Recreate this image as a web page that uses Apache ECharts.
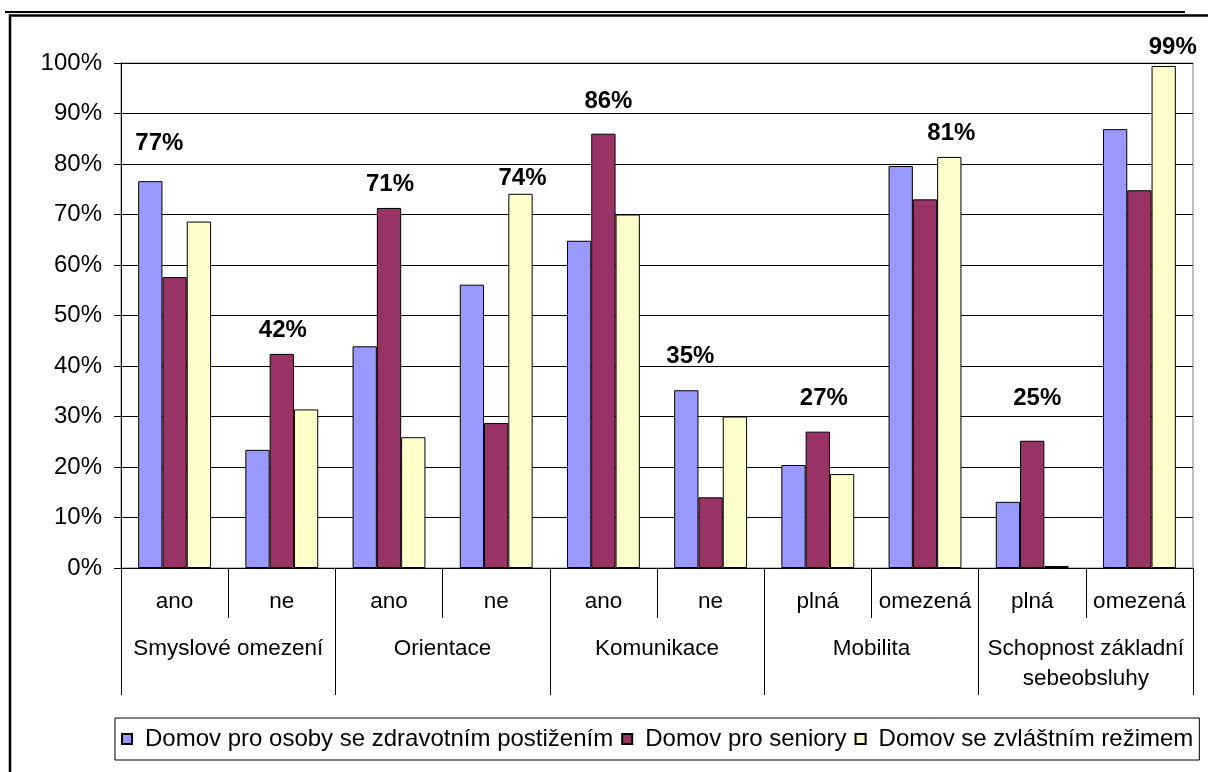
<!DOCTYPE html>
<html>
<head>
<meta charset="utf-8">
<script src="https://cdn.jsdelivr.net/npm/echarts@6/dist/echarts.min.js"></script>
<style>
  html, body { margin: 0; padding: 0; background: #fff; }
  #chart { width: 1208px; height: 772px; }
</style>
</head>
<body>
<div id="chart"></div>
<script>
// Sub-categories (first axis level) and their groups (second axis level)
const subCategories = ['ano', 'ne', 'ano', 'ne', 'ano', 'ne', 'plná', 'omezená', 'plná', 'omezená'];
const groups = ['Smyslové omezení', 'Orientace', 'Komunikace', 'Mobilita', 'Schopnost základní\nsebeobsluhy'];
const seriesNames = [
  'Domov pro osoby se zdravotním postižením',
  'Domov pro seniory',
  'Domov se zvláštním režimem'
];

// Shares in percent per sub-category
const disabledHome = [76.6, 23.4, 43.9, 56.1, 64.8, 35.2, 20.4, 79.6, 13.1, 86.9];
const seniorHome   = [57.6, 42.4, 71.3, 28.7, 86.0, 14.0, 27.0, 73.0, 25.2, 74.8];
const specialHome  = [68.6, 31.4, 25.9, 74.1, 70.0, 30.0, 18.6, 81.4, 0.4, 99.4];

const yTicks = { min: 0, max: 100, interval: 10 };

// Hand-placed nudges for the highest-bar labels, [dx, dy] in px
const labelNudge = [[9, -26], [1, -12], [1, -12], [2, -3], [5, -20], [4, -22], [6, -21], [2, -12], [5, -30], [9, -7]];

const colors = ['#9999FF', '#993366', '#FFFFCC'];
const FONT = 'Liberation Sans, Arial, sans-serif';

const allSeries = [disabledHome, seniorHome, specialHome];

// index of the tallest bar in every sub-category
const topIndex = subCategories.map((_, i) => {
  let best = 0;
  allSeries.forEach((s, k) => { if (s[i] > allSeries[best][i]) best = k; });
  return best;
});

const series = allSeries.map((values, k) => ({
  name: seriesNames[k],
  type: 'bar',
  xAxisIndex: 0,
  barGap: 0,
  barCategoryGap: '32%',
  itemStyle: { color: colors[k], borderColor: '#000', borderWidth: 1 },
  data: values.map((v, i) => {
    const item = { value: v };
    if (topIndex[i] === k) {
      item.label = {
        show: true,
        position: 'top',
        distance: 0,
        offset: labelNudge[i],
        formatter: p => Math.round(p.value) + '%',
        fontFamily: FONT,
        fontSize: 24,
        fontWeight: 'bold',
        color: '#000'
      };
    }
    return item;
  })
}));

const chart = echarts.init(document.getElementById('chart'), null, { renderer: 'canvas' });
chart.setOption({
  animation: false,
  backgroundColor: '#fff',
  textStyle: { fontFamily: FONT },
  grid: {
    left: 121, right: 15, top: 63, bottom: 204,
    show: true, borderColor: '#808080', borderWidth: 1, backgroundColor: 'transparent'
  },
  legend: {
    left: 115, top: 718,
    orient: 'horizontal',
    itemWidth: 10, itemHeight: 10,
    itemGap: 8,
    padding: [9, 6, 9, 6],
    borderColor: '#000', borderWidth: 1,
    icon: 'rect',
    textStyle: { fontFamily: FONT, fontSize: 24, color: '#000', padding: [0, 0, 0, 8] },
    data: seriesNames
  },
  xAxis: [
    {
      type: 'category',
      position: 'bottom',
      data: subCategories,
      axisLine: { lineStyle: { color: '#000', width: 1 } },
      axisTick: { show: true, interval: 0, length: 50, lineStyle: { color: '#000' } },
      axisLabel: { interval: 0, margin: 22, color: '#000', fontFamily: FONT, fontSize: 22.5 },
      splitLine: { show: false }
    },
    {
      type: 'category',
      position: 'bottom',
      offset: 0,
      data: groups,
      axisLine: { show: false },
      axisTick: { show: true, interval: 0, length: 127, lineStyle: { color: '#000' } },
      axisLabel: { interval: 0, margin: 66, color: '#000', fontFamily: FONT, fontSize: 22.5, lineHeight: 30 },
      splitLine: { show: false }
    }
  ],
  yAxis: {
    type: 'value',
    min: yTicks.min, max: yTicks.max, interval: yTicks.interval,
    axisLine: { show: true, lineStyle: { color: '#000' } },
    axisTick: { show: true, length: 7, lineStyle: { color: '#000' } },
    axisLabel: { formatter: '{value}%', margin: 19, color: '#000', fontFamily: FONT, fontSize: 24 },
    splitLine: { lineStyle: { color: '#000', width: 1 } }
  },
  graphic: [
    { type: 'line', shape: { x1: 5, y1: 12, x2: 1185, y2: 12 }, style: { stroke: '#000', lineWidth: 2 } },
    { type: 'polyline', shape: { points: [[10, 772], [10, 15.5], [1208, 15.5]] }, style: { stroke: '#000', lineWidth: 2.5, fill: null } }
  ],
  series: series
});
</script>
</body>
</html>
